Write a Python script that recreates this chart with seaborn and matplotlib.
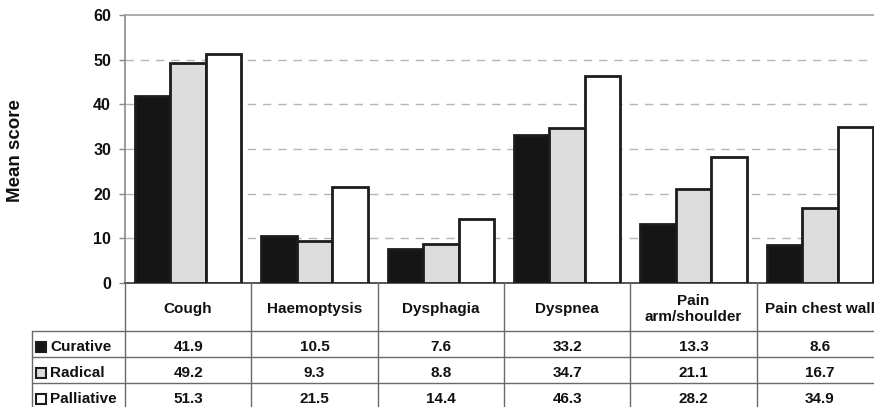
import matplotlib
matplotlib.use("Agg")
import matplotlib.pyplot as plt
from matplotlib.lines import Line2D
from matplotlib.patches import Rectangle
from matplotlib.transforms import blended_transform_factory
import pandas as pd
import seaborn as sns

# Symptom scores by treatment intent
categories = ["Cough", "Haemoptysis", "Dysphagia", "Dyspnea", "Pain\narm/shoulder", "Pain chest wall"]
groups = ["Curative", "Radical", "Palliative"]
curative = [41.9, 10.5, 7.6, 33.2, 13.3, 8.6]
radical = [49.2, 9.3, 8.8, 34.7, 21.1, 16.7]
palliative = [51.3, 21.5, 14.4, 46.3, 28.2, 34.9]
yticks = [0, 10, 20, 30, 40, 50, 60]

series = {"Curative": curative, "Radical": radical, "Palliative": palliative}
colors = {"Curative": "#151515", "Radical": "#dcdcdc", "Palliative": "#ffffff"}

df = pd.DataFrame(
    [(c, g, v) for g in groups for c, v in zip(categories, series[g])],
    columns=["symptom", "group", "score"],
)

sns.set_theme(style="white")
plt.rcParams["font.family"] = ["Liberation Sans", "DejaVu Sans"]

W, H = 874, 407
fig = plt.figure(figsize=(W / 100, H / 100), dpi=100)

# plot area in pixel terms
ax_left, ax_right, ax_top, ax_bottom = 125, 883, 15, 283
ax = fig.add_axes([ax_left / W, 1 - ax_bottom / H, (ax_right - ax_left) / W, (ax_bottom - ax_top) / H])

sns.barplot(
    data=df, x="symptom", y="score", hue="group", hue_order=groups, order=categories,
    palette=colors, saturation=1, width=0.84, gap=0, edgecolor="#1c1c1c",
    linewidth=2.0, legend=False, ax=ax, zorder=3,
)

ax.set_xlim(-0.5, len(categories) - 0.5)
ax.set_ylim(0, 60)
ax.set_yticks(yticks)
ax.set_yticklabels([str(t) for t in yticks], fontsize=11.5, fontweight="bold", color="#111111")
ax.tick_params(axis="y", length=4, width=1, color="#888888", pad=6, left=True)
ax.tick_params(axis="x", bottom=False, labelbottom=False)
ax.set_xlabel("")
ax.set_ylabel("")

ax.yaxis.grid(True, linestyle=(0, (6, 5)), color="#b5b5b5", linewidth=1, zorder=0)
ax.set_axisbelow(True)
ax.get_ygridlines()[-1].set_visible(False)

ax.spines["right"].set_visible(False)
ax.spines["top"].set_color("#a0a0a0")
ax.spines["top"].set_linewidth(1.2)
ax.spines["left"].set_color("#8a8a8a")
ax.spines["left"].set_linewidth(1.2)
ax.spines["bottom"].set_color("#555555")
ax.spines["bottom"].set_linewidth(1.4)

fig.text(16 / W, 1 - 151 / H, "Mean score", rotation=90, ha="center", va="center",
         fontsize=13.5, fontweight="bold", color="#111111")

# data table beneath the axis
def fy(py):
    return 1 - py / H

def fx(px):
    return px / W

tr = blended_transform_factory(ax.transData, fig.transFigure)
line_kw = dict(color="#6a6a6a", linewidth=1.0, clip_on=False)

row_lines = [331, 357, 383, 409]
row_centers = [347, 373, 399]
legend_left = 32

# vertical separators between category columns
for i in range(len(categories) + 1):
    x = i - 0.5
    fig.add_artist(Line2D([x, x], [fy(ax_bottom), fy(H)], transform=tr, **line_kw))

# horizontal rules of the table
for py in row_lines:
    fig.add_artist(Line2D([fx(legend_left), fx(W)], [fy(py), fy(py)], transform=fig.transFigure, **line_kw))
fig.add_artist(Line2D([fx(legend_left), fx(legend_left)], [fy(row_lines[0]), fy(H)],
                      transform=fig.transFigure, **line_kw))

# header row: category names
for i, c in enumerate(categories):
    fig.text(i, fy(309), c, transform=tr, ha="center", va="center", fontsize=11,
             fontweight="bold", color="#111111", linespacing=1.25)

# body rows: legend keys and values
for r, g in enumerate(groups):
    yc = fy(row_centers[r])
    fig.add_artist(Rectangle((fx(36), yc - 5 / H), 10 / W, 10 / H, transform=fig.transFigure,
                             facecolor=colors[g], edgecolor="#1c1c1c", linewidth=1.5))
    fig.text(fx(50), yc, g, ha="left", va="center", fontsize=11, fontweight="bold", color="#111111")
    for i, v in enumerate(series[g]):
        fig.text(i, yc, f"{v:.1f}", transform=tr, ha="center", va="center", fontsize=11,
                 fontweight="bold", color="#111111")

fig.savefig("out.png", dpi=100)
